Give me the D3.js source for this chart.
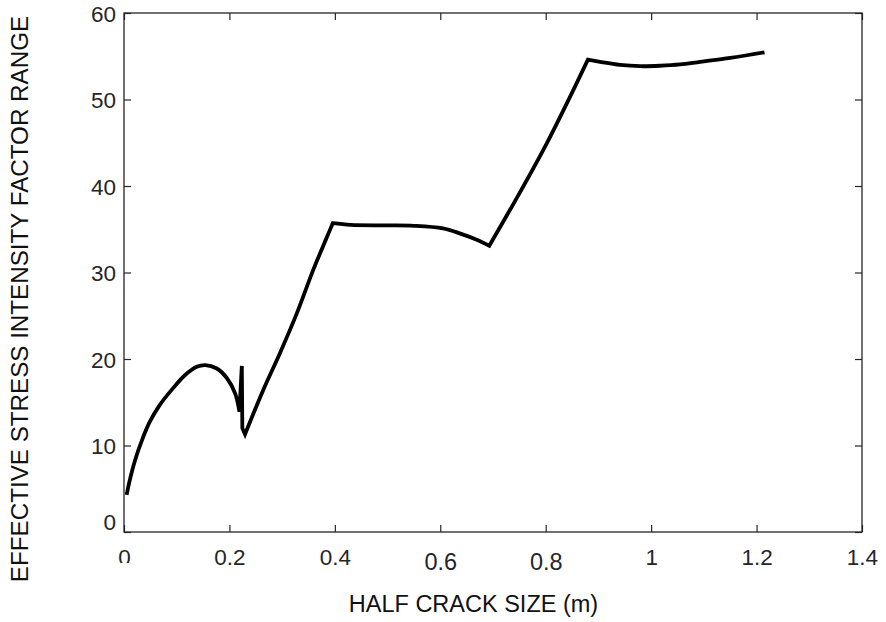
<!DOCTYPE html>
<html>
<head>
<meta charset="utf-8">
<script src="https://cdn.jsdelivr.net/npm/d3@7"></script>
<style>
  html, body { margin: 0; padding: 0; background: #fff; }
  svg { display: block; }
  text { font-family: "Liberation Sans", Arial, Helvetica, sans-serif; }
</style>
</head>
<body>
<svg id="chart" width="886" height="622"></svg>
<script>
// Half crack size (m)
const crackSize = [
  0.005, 0.011, 0.021, 0.034, 0.049, 0.068, 0.090, 0.116, 0.138, 0.154,
  0.176, 0.195, 0.211, 0.219, 0.2235, 0.2245, 0.2296,
  0.264, 0.296, 0.328, 0.359, 0.385, 0.396,
  0.43, 0.50, 0.55, 0.605, 0.638, 0.669, 0.693,
  0.745, 0.80, 0.85, 0.880,
  0.903, 0.941, 0.979, 1.017, 1.055, 1.093, 1.150, 1.215
];
// Effective stress intensity factor range
const deltaK = [
  4.3, 6.0, 8.3, 10.6, 12.75, 14.7, 16.4, 18.15, 19.1, 19.3,
  18.9, 17.8, 16.0, 13.9, 19.2, 12.0, 11.3,
  16.4, 20.7, 25.3, 30.3, 34.1, 35.7,
  35.5, 35.45, 35.4, 35.1, 34.5, 33.8, 33.1,
  38.6, 44.7, 50.8, 54.6,
  54.35, 54.0, 53.85, 53.9, 54.05, 54.35, 54.8, 55.45
];
// Indices where the curve changes direction abruptly (kinks between smooth pieces)
const kinks = [0, 13, 14, 15, 16, 22, 29, 33, 41];

const xTicks = [0, 0.2, 0.4, 0.6, 0.8, 1, 1.2, 1.4];
const yTicks = [0, 10, 20, 30, 40, 50, 60];
const xTickLabels = ["0", "0.2", "0.4", "0.6", "0.8", "1", "1.2", "1.4"];
const yTickLabels = ["0", "10", "20", "30", "40", "50", "60"];

const xTitle = "HALF CRACK SIZE (m)";
const yTitle = "EFFECTIVE STRESS INTENSITY FACTOR RANGE";

const W = 886, H = 622;
const margin = { left: 124, top: 13, right: 24, bottom: 90 };
const plotW = W - margin.left - margin.right;
const plotH = H - margin.top - margin.bottom;

const axisColor = "#262626";
const tickLen = 7;

const svg = d3.select("#chart");
const g = svg.append("g").attr("transform", `translate(${margin.left},${margin.top})`);

const x = d3.scaleLinear().domain([0, 1.4]).range([0, plotW]);
const y = d3.scaleLinear().domain([0, 60]).range([plotH, 0]);

// Inward ticks on all four sides of the box
function styleAxis(sel) {
  sel.select(".domain").remove();
  sel.selectAll(".tick line").attr("stroke", axisColor).attr("stroke-width", 1.2);
}

const xBottom = g.append("g")
  .attr("transform", `translate(0,${plotH})`)
  .call(d3.axisBottom(x).tickValues(xTicks)
    .tickSize(-tickLen).tickPadding(0)
    .tickFormat((d, i) => xTickLabels[i]));
styleAxis(xBottom);
// a few labels sit slightly lower and larger
const xLabelNudge = { 0.6: { dy: 5, size: 23.5 }, 0.8: { dy: 5, size: 23.5 } };
xBottom.selectAll(".tick text")
  .attr("fill", axisColor)
  .attr("font-size", d => (xLabelNudge[d] ? xLabelNudge[d].size : 22.5) + "px")
  .attr("dy", null)
  .attr("y", d => 33 + (xLabelNudge[d] ? xLabelNudge[d].dy : 0));

// the "0" label is trimmed along its lower edge
svg.append("defs").append("clipPath").attr("id", "zeroClip")
  .append("rect").attr("x", -20).attr("y", 0).attr("width", 40).attr("height", 31);
xBottom.selectAll(".tick text").filter(d => d === 0).attr("clip-path", "url(#zeroClip)");

const xTop = g.append("g")
  .call(d3.axisTop(x).tickValues(xTicks).tickSize(-tickLen).tickFormat(""));
styleAxis(xTop);

const yLeft = g.append("g")
  .call(d3.axisLeft(y).tickValues(yTicks)
    .tickSize(-tickLen).tickPadding(0)
    .tickFormat((d, i) => yTickLabels[i]));
styleAxis(yLeft);
yLeft.selectAll(".tick text")
  .attr("fill", axisColor)
  .attr("font-size", "22.5px")
  .attr("x", -8)
  .attr("dy", d => d === 0 ? "-0.1em" : "0.36em");

const yRight = g.append("g")
  .attr("transform", `translate(${plotW},0)`)
  .call(d3.axisRight(y).tickValues(yTicks).tickSize(-tickLen).tickFormat(""));
styleAxis(yRight);

// Box outline
g.append("rect")
  .attr("x", 0).attr("y", 0)
  .attr("width", plotW).attr("height", plotH)
  .attr("fill", "none")
  .attr("stroke", axisColor)
  .attr("stroke-width", 1.3);

// Crack growth curve: smooth pieces joined at sharp kinks into one path
const pts = crackSize.map((c, i) => [c, deltaK[i]]);
const smooth = d3.line()
  .x(d => x(d[0]))
  .y(d => y(d[1]))
  .curve(d3.curveCatmullRom.alpha(0.5));

let pathD = "";
for (let k = 0; k < kinks.length - 1; k++) {
  const piece = pts.slice(kinks[k], kinks[k + 1] + 1);
  let d = smooth(piece);
  if (k > 0) d = d.replace(/^M[^A-Za-z]*/, "");
  pathD += d;
}

g.append("path")
  .attr("d", pathD)
  .attr("fill", "none")
  .attr("stroke", "#000")
  .attr("stroke-width", 3.8)
  .attr("stroke-linejoin", "miter")
  .attr("stroke-miterlimit", 4)
  .attr("stroke-linecap", "butt");

// Axis titles
svg.append("text")
  .attr("x", 473.5)
  .attr("y", 612)
  .attr("text-anchor", "middle")
  .attr("font-size", "23.5px")
  .attr("fill", "#111")
  .text(xTitle);

svg.append("text")
  .attr("transform", "translate(28,299) rotate(-90)")
  .attr("text-anchor", "middle")
  .attr("font-size", "24.2px")
  .attr("fill", "#111")
  .text(yTitle);
</script>
</body>
</html>
